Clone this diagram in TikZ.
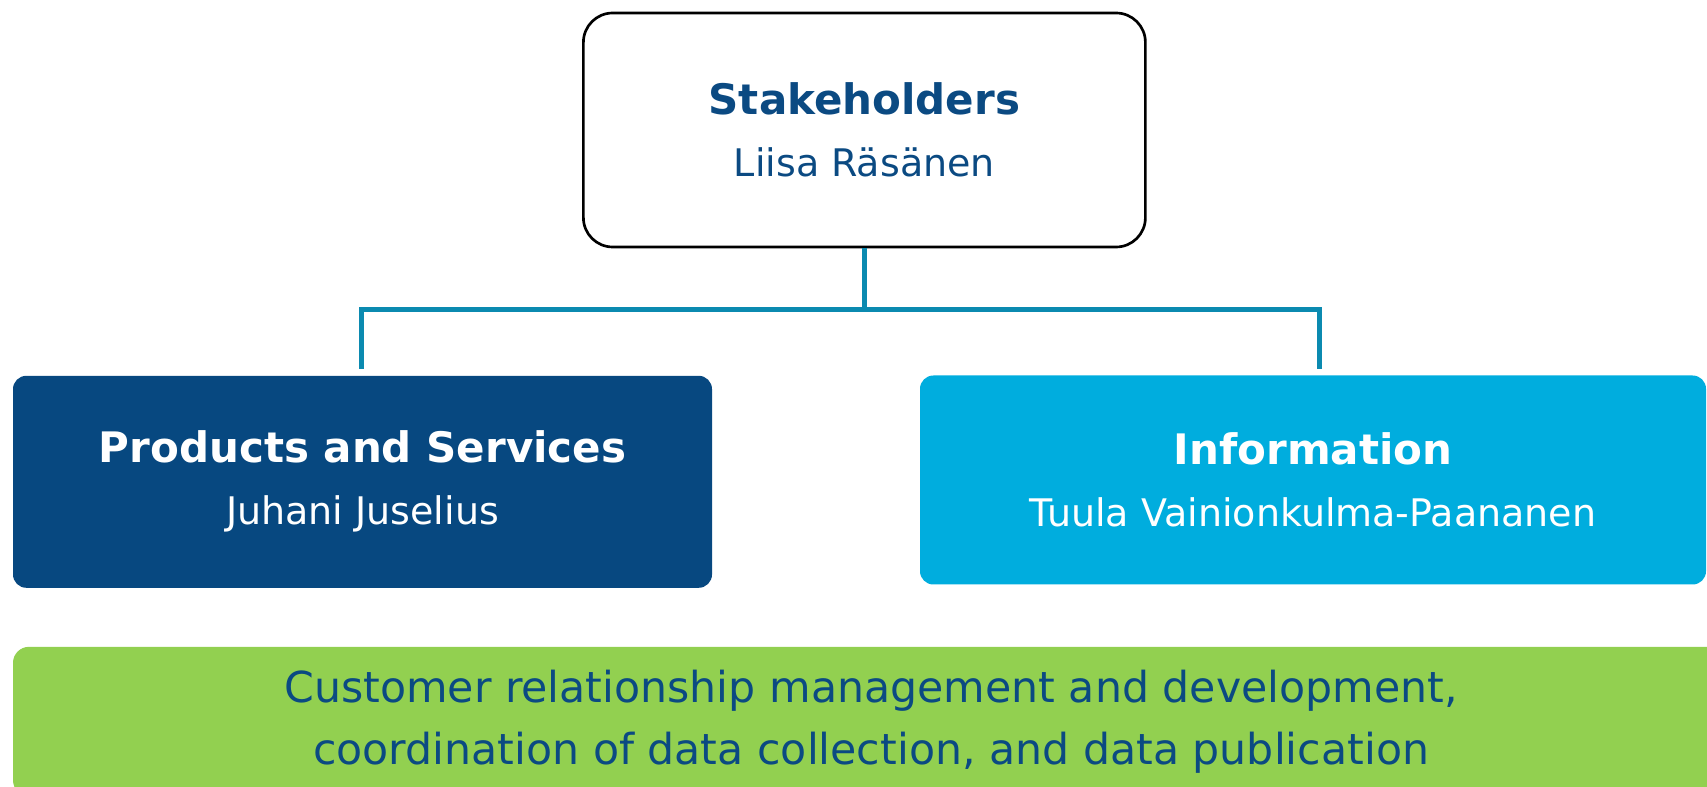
\documentclass[tikz,border=0pt]{standalone}
\usepackage{fontspec}
\setmainfont{DejaVu Sans}
\usetikzlibrary{positioning}
\definecolor{navybox}{RGB}{7,72,128}
\definecolor{skybox}{RGB}{0,173,222}
\definecolor{greenbox}{RGB}{146,208,80}
\definecolor{linkblue}{RGB}{11,138,176}
\definecolor{textblue}{RGB}{11,74,130}
\tikzset{
  unit/.style={rounded corners=#1, align=center, inner sep=0pt},
  link/.style={line width=3.8pt, color=linkblue}
}

\begin{document}
\begin{tikzpicture}[x=0.75pt, y=-0.75pt]
			%%%%% START %%%%%
			\useasboundingbox (0, 0) rectangle (1707, 787);
			\clip (0, 0) rectangle (1707, 787);
			
			\node[unit=22pt, draw=black, line width=2pt, fill=white, text=textblue,
				minimum width=421.5pt, minimum height=175.5pt,
				font=\fontsize{28.5}{46.5}\selectfont] (stake) at (864.4, 130)
				{{\fontsize{31.5}{46.5}\selectfont\bfseries Stakeholders}\\Liisa Räsänen};
			
			\node[unit=10pt, fill=navybox, text=white,
				minimum width=524.25pt, minimum height=159pt,
				font=\fontsize{28.5}{46.5}\selectfont] (prod) at (362.5, 481.8)
				{{\fontsize{31.5}{46.5}\selectfont\bfseries Products and Services}\\Juhani Juselius};
			
			\node[unit=10pt, fill=skybox, text=white,
				minimum width=589.5pt, minimum height=156.75pt,
				font=\fontsize{28.5}{46.5}\selectfont] (info) at (1313, 480)
				{{\fontsize{31.5}{46.5}\selectfont\bfseries Information}\\Tuula Vainionkulma-Paananen};
			
			\node[unit=12pt, fill=greenbox, text=textblue,
				minimum width=1287pt, minimum height=112pt,
				font=\fontsize{32}{46.5}\selectfont] (task) at (871, 721.5)
				{Customer relationship management and development,\\coordination of data collection, and data publication};
			
			% connectors stop short of the lower boxes
			\coordinate (hub) at (864.4, 309.2);
			\coordinate (prodtop) at (361.4, 369);
			\coordinate (infotop) at (1319.5, 369);
			\draw[link] (stake.south) -- (hub);
			\draw[link] (prodtop) |- (hub) -| (infotop);
			
			%%%%% END %%%%%
\end{tikzpicture}
\end{document}
